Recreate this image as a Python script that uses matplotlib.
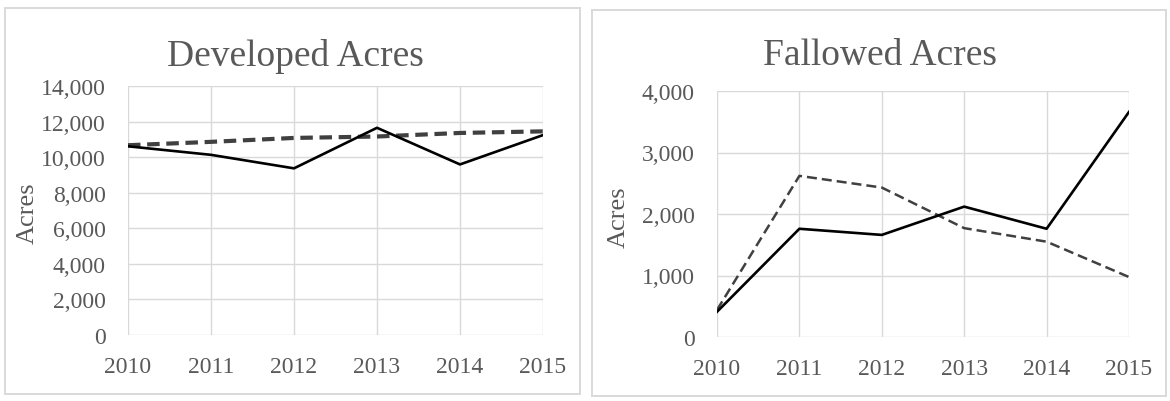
import matplotlib
matplotlib.use("Agg")
import matplotlib.pyplot as plt
from matplotlib.patches import Rectangle
from matplotlib.ticker import FuncFormatter

years = [2010, 2011, 2012, 2013, 2014, 2015]

developed_actual = [10610, 10130, 9370, 11650, 9590, 11240]
developed_trend = [10670, 10860, 11080, 11160, 11360, 11450]

fallowed_actual = [410, 1760, 1660, 2120, 1760, 3660]
fallowed_trend = [440, 2620, 2430, 1770, 1550, 975]

developed_ticks = [0, 2000, 4000, 6000, 8000, 10000, 12000, 14000]
fallowed_ticks = [0, 1000, 2000, 3000, 4000]

W, H = 1170, 402
TEXT = "#595959"
GRID = "#d9d9d9"
plt.rcParams["font.family"] = ["Liberation Serif", "DejaVu Serif"]

fig = plt.figure(figsize=(W / 100, H / 100), dpi=100)

# chart frames
for x0, y0, x1, y1 in [(5, 9, 580, 395), (592, 11, 1166, 397)]:
    fig.patches.append(Rectangle((x0 / W, 1 - y1 / H), (x1 - x0) / W, (y1 - y0) / H,
                                 transform=fig.transFigure, fill=False,
                                 edgecolor=GRID, linewidth=1.4))

fmt = FuncFormatter(lambda v, p: f"{int(v):,}")


def panel(rect, actual, trend, ticks, title, title_x, ylabel_x, dash_lw, dash_pat):
    x0, y_top, x1, y_bot = rect
    ax = fig.add_axes([x0 / W, 1 - y_bot / H, (x1 - x0) / W, (y_bot - y_top) / H])
    ax.plot(years, trend, color="#404040", lw=dash_lw, linestyle=(0, dash_pat),
            solid_capstyle="butt", zorder=3)
    ax.plot(years, actual, color="black", lw=1.9, zorder=4)
    ax.set_xlim(years[0], years[-1])
    ax.set_ylim(ticks[0], ticks[-1])
    ax.set_xticks(years)
    ax.set_yticks(ticks)
    ax.yaxis.set_major_formatter(fmt)
    ax.grid(True, color=GRID, lw=1.0)
    ax.set_axisbelow(True)
    for s in ax.spines.values():
        s.set_visible(False)
    ax.tick_params(length=0, labelsize=17, colors=TEXT)
    ax.tick_params(axis="y", pad=16)
    ax.tick_params(axis="x", pad=15)
    fig.text(title_x / W, 1 - 56 / H, title, ha="center", va="center",
             fontsize=27, color=TEXT)
    fig.text(ylabel_x / W, 1 - ((y_top + y_bot) / 2 + 2) / H, "Acres", rotation=90,
             ha="center", va="center", fontsize=19, color=TEXT)
    return ax


panel((128, 87, 543, 336), developed_actual, developed_trend, developed_ticks,
      "Developed Acres", 295, 28, 3.0, (3.0, 1.6))
panel((717, 92, 1129, 338), fallowed_actual, fallowed_trend, fallowed_ticks,
      "Fallowed Acres", 880, 619, 1.8, (4.0, 2.0))

fig.savefig("out.png", dpi=100)
